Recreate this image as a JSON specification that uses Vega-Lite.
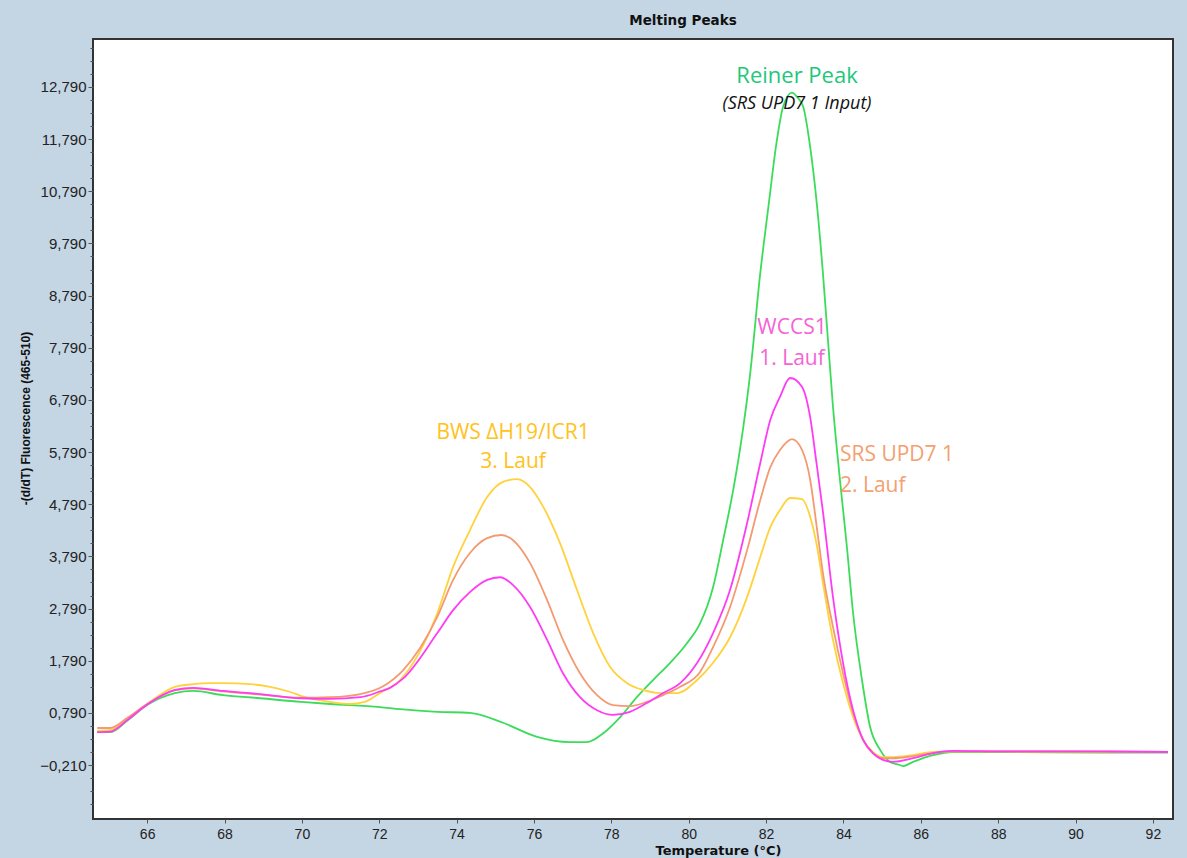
{
  "$schema": "https://vega.github.io/schema/vega-lite/v6.json",
  "width": 1080,
  "height": 780,
  "autosize": "none",
  "padding": {"left": 93, "top": 39, "right": 14, "bottom": 39},
  "background": "#C4D5E4",
  "config": {
    "view": {"fill": "white", "stroke": "#333333", "strokeWidth": 2},
    "axis": {"labelFont": "Liberation Sans", "labelFontSize": 15, "labelColor": "#222222"}
  },
  "title": {"text": "Melting Peaks", "font": "DejaVu Sans", "fontSize": 13.5, "fontWeight": "bold", "color": "#111111", "anchor": "middle", "dx": 50, "offset": 12},
  "resolve": {"axis": {"y": "independent"}},
  "layer": [
    {"data": {"values": [{}]}, "mark": {"type": "text", "text": ""},
      "encoding": {"x": {"datum": 80, "type": "quantitative"}, "y": {"datum": 5, "type": "quantitative",
        "axis": {"orient": "left", "values": [-0.96, -0.71, -0.46, 0.04, 0.29, 0.54, 1.04, 1.29, 1.54, 2.04, 2.29, 2.54, 3.04, 3.29, 3.54, 4.04, 4.29, 4.54, 5.04, 5.29, 5.54, 6.04, 6.29, 6.54, 7.04, 7.29, 7.54, 8.04, 8.29, 8.54, 9.04, 9.29, 9.54, 10.04, 10.29, 10.54, 11.04, 11.29, 11.54, 12.04, 12.29, 12.54, 13.04, 13.29, 13.54], "labels": false, "domain": false, "grid": false, "tickSize": 3, "tickColor": "#555555", "title": null, "offset": 0}}}},
    {
      "data": {"values": [
        {"s": "Reiner Peak", "t": 64.71, "v": 0.42}, {"s": "Reiner Peak", "t": 65.04, "v": 0.42}, {"s": "Reiner Peak", "t": 65.5, "v": 0.65}, {"s": "Reiner Peak", "t": 66.0, "v": 0.94}, {"s": "Reiner Peak", "t": 66.72, "v": 1.17}, {"s": "Reiner Peak", "t": 67.19, "v": 1.21}, {"s": "Reiner Peak", "t": 67.96, "v": 1.13}, {"s": "Reiner Peak", "t": 68.92, "v": 1.07}, {"s": "Reiner Peak", "t": 69.98, "v": 1.0}, {"s": "Reiner Peak", "t": 70.73, "v": 0.96}, {"s": "Reiner Peak", "t": 72.02, "v": 0.9}, {"s": "Reiner Peak", "t": 72.54, "v": 0.86}, {"s": "Reiner Peak", "t": 73.5, "v": 0.81}, {"s": "Reiner Peak", "t": 74.35, "v": 0.79}, {"s": "Reiner Peak", "t": 75.2, "v": 0.6}, {"s": "Reiner Peak", "t": 76.08, "v": 0.33}, {"s": "Reiner Peak", "t": 76.93, "v": 0.23}, {"s": "Reiner Peak", "t": 77.37, "v": 0.23}, {"s": "Reiner Peak", "t": 77.79, "v": 0.4}, {"s": "Reiner Peak", "t": 78.23, "v": 0.71}, {"s": "Reiner Peak", "t": 78.66, "v": 1.09}, {"s": "Reiner Peak", "t": 79.08, "v": 1.42}, {"s": "Reiner Peak", "t": 79.52, "v": 1.75}, {"s": "Reiner Peak", "t": 79.96, "v": 2.13}, {"s": "Reiner Peak", "t": 80.29, "v": 2.5}, {"s": "Reiner Peak", "t": 80.63, "v": 3.2}, {"s": "Reiner Peak", "t": 80.89, "v": 4.1}, {"s": "Reiner Peak", "t": 81.15, "v": 5.06}, {"s": "Reiner Peak", "t": 81.4, "v": 6.21}, {"s": "Reiner Peak", "t": 81.59, "v": 7.3}, {"s": "Reiner Peak", "t": 81.85, "v": 9.22}, {"s": "Reiner Peak", "t": 82.06, "v": 10.49}, {"s": "Reiner Peak", "t": 82.28, "v": 11.77}, {"s": "Reiner Peak", "t": 82.44, "v": 12.41}, {"s": "Reiner Peak", "t": 82.67, "v": 12.68}, {"s": "Reiner Peak", "t": 82.8, "v": 12.6}, {"s": "Reiner Peak", "t": 82.96, "v": 12.41}, {"s": "Reiner Peak", "t": 83.14, "v": 11.64}, {"s": "Reiner Peak", "t": 83.32, "v": 10.49}, {"s": "Reiner Peak", "t": 83.47, "v": 9.22}, {"s": "Reiner Peak", "t": 83.6, "v": 7.94}, {"s": "Reiner Peak", "t": 83.73, "v": 6.66}, {"s": "Reiner Peak", "t": 83.91, "v": 5.26}, {"s": "Reiner Peak", "t": 84.09, "v": 3.97}, {"s": "Reiner Peak", "t": 84.25, "v": 2.7}, {"s": "Reiner Peak", "t": 84.48, "v": 1.42}, {"s": "Reiner Peak", "t": 84.69, "v": 0.52}, {"s": "Reiner Peak", "t": 84.95, "v": 0.08}, {"s": "Reiner Peak", "t": 85.2, "v": -0.15}, {"s": "Reiner Peak", "t": 85.46, "v": -0.21}, {"s": "Reiner Peak", "t": 85.54, "v": -0.23}, {"s": "Reiner Peak", "t": 85.8, "v": -0.15}, {"s": "Reiner Peak", "t": 86.32, "v": -0.02}, {"s": "Reiner Peak", "t": 86.83, "v": 0.04}, {"s": "Reiner Peak", "t": 88.05, "v": 0.04}, {"s": "Reiner Peak", "t": 90.63, "v": 0.03}, {"s": "Reiner Peak", "t": 92.39, "v": 0.03},
        {"s": "BWS", "t": 64.71, "v": 0.45}, {"s": "BWS", "t": 65.04, "v": 0.46}, {"s": "BWS", "t": 65.5, "v": 0.68}, {"s": "BWS", "t": 66.0, "v": 0.96}, {"s": "BWS", "t": 66.72, "v": 1.29}, {"s": "BWS", "t": 67.19, "v": 1.34}, {"s": "BWS", "t": 67.63, "v": 1.36}, {"s": "BWS", "t": 67.96, "v": 1.36}, {"s": "BWS", "t": 68.66, "v": 1.34}, {"s": "BWS", "t": 69.18, "v": 1.29}, {"s": "BWS", "t": 69.7, "v": 1.19}, {"s": "BWS", "t": 70.08, "v": 1.09}, {"s": "BWS", "t": 70.73, "v": 1.0}, {"s": "BWS", "t": 71.25, "v": 0.96}, {"s": "BWS", "t": 71.63, "v": 1.0}, {"s": "BWS", "t": 72.02, "v": 1.17}, {"s": "BWS", "t": 72.54, "v": 1.42}, {"s": "BWS", "t": 73.5, "v": 2.7}, {"s": "BWS", "t": 73.91, "v": 3.59}, {"s": "BWS", "t": 74.35, "v": 4.3}, {"s": "BWS", "t": 74.79, "v": 4.93}, {"s": "BWS", "t": 75.2, "v": 5.22}, {"s": "BWS", "t": 75.56, "v": 5.27}, {"s": "BWS", "t": 75.9, "v": 5.12}, {"s": "BWS", "t": 76.24, "v": 4.74}, {"s": "BWS", "t": 76.67, "v": 4.05}, {"s": "BWS", "t": 77.11, "v": 3.15}, {"s": "BWS", "t": 77.53, "v": 2.32}, {"s": "BWS", "t": 77.97, "v": 1.67}, {"s": "BWS", "t": 78.41, "v": 1.36}, {"s": "BWS", "t": 78.82, "v": 1.23}, {"s": "BWS", "t": 79.26, "v": 1.17}, {"s": "BWS", "t": 79.7, "v": 1.17}, {"s": "BWS", "t": 80.22, "v": 1.42}, {"s": "BWS", "t": 80.63, "v": 1.75}, {"s": "BWS", "t": 81.07, "v": 2.24}, {"s": "BWS", "t": 81.51, "v": 3.01}, {"s": "BWS", "t": 81.85, "v": 3.78}, {"s": "BWS", "t": 82.11, "v": 4.35}, {"s": "BWS", "t": 82.36, "v": 4.68}, {"s": "BWS", "t": 82.62, "v": 4.91}, {"s": "BWS", "t": 82.93, "v": 4.89}, {"s": "BWS", "t": 83.14, "v": 4.55}, {"s": "BWS", "t": 83.32, "v": 3.97}, {"s": "BWS", "t": 83.47, "v": 3.28}, {"s": "BWS", "t": 83.73, "v": 2.19}, {"s": "BWS", "t": 83.99, "v": 1.36}, {"s": "BWS", "t": 84.25, "v": 0.71}, {"s": "BWS", "t": 84.51, "v": 0.27}, {"s": "BWS", "t": 84.76, "v": 0.04}, {"s": "BWS", "t": 85.02, "v": -0.06}, {"s": "BWS", "t": 85.28, "v": -0.06}, {"s": "BWS", "t": 85.8, "v": -0.02}, {"s": "BWS", "t": 86.32, "v": 0.04}, {"s": "BWS", "t": 86.83, "v": 0.05}, {"s": "BWS", "t": 88.05, "v": 0.05}, {"s": "BWS", "t": 92.39, "v": 0.04},
        {"s": "SRS UPD7 1", "t": 64.71, "v": 0.5}, {"s": "SRS UPD7 1", "t": 65.04, "v": 0.5}, {"s": "SRS UPD7 1", "t": 65.5, "v": 0.7}, {"s": "SRS UPD7 1", "t": 66.0, "v": 0.96}, {"s": "SRS UPD7 1", "t": 66.72, "v": 1.22}, {"s": "SRS UPD7 1", "t": 67.19, "v": 1.26}, {"s": "SRS UPD7 1", "t": 67.96, "v": 1.2}, {"s": "SRS UPD7 1", "t": 68.92, "v": 1.14}, {"s": "SRS UPD7 1", "t": 69.98, "v": 1.08}, {"s": "SRS UPD7 1", "t": 70.73, "v": 1.09}, {"s": "SRS UPD7 1", "t": 71.51, "v": 1.15}, {"s": "SRS UPD7 1", "t": 72.1, "v": 1.3}, {"s": "SRS UPD7 1", "t": 72.62, "v": 1.61}, {"s": "SRS UPD7 1", "t": 73.5, "v": 2.63}, {"s": "SRS UPD7 1", "t": 73.91, "v": 3.34}, {"s": "SRS UPD7 1", "t": 74.35, "v": 3.86}, {"s": "SRS UPD7 1", "t": 74.79, "v": 4.14}, {"s": "SRS UPD7 1", "t": 75.16, "v": 4.2}, {"s": "SRS UPD7 1", "t": 75.46, "v": 4.1}, {"s": "SRS UPD7 1", "t": 75.9, "v": 3.66}, {"s": "SRS UPD7 1", "t": 76.34, "v": 2.95}, {"s": "SRS UPD7 1", "t": 76.75, "v": 2.19}, {"s": "SRS UPD7 1", "t": 77.19, "v": 1.55}, {"s": "SRS UPD7 1", "t": 77.63, "v": 1.13}, {"s": "SRS UPD7 1", "t": 78.04, "v": 0.94}, {"s": "SRS UPD7 1", "t": 78.48, "v": 0.92}, {"s": "SRS UPD7 1", "t": 78.92, "v": 1.0}, {"s": "SRS UPD7 1", "t": 79.34, "v": 1.13}, {"s": "SRS UPD7 1", "t": 79.78, "v": 1.29}, {"s": "SRS UPD7 1", "t": 80.29, "v": 1.57}, {"s": "SRS UPD7 1", "t": 80.63, "v": 2.05}, {"s": "SRS UPD7 1", "t": 81.07, "v": 2.82}, {"s": "SRS UPD7 1", "t": 81.51, "v": 3.91}, {"s": "SRS UPD7 1", "t": 81.85, "v": 4.87}, {"s": "SRS UPD7 1", "t": 82.11, "v": 5.5}, {"s": "SRS UPD7 1", "t": 82.36, "v": 5.83}, {"s": "SRS UPD7 1", "t": 82.67, "v": 6.04}, {"s": "SRS UPD7 1", "t": 82.93, "v": 5.83}, {"s": "SRS UPD7 1", "t": 83.14, "v": 5.26}, {"s": "SRS UPD7 1", "t": 83.32, "v": 4.3}, {"s": "SRS UPD7 1", "t": 83.47, "v": 3.47}, {"s": "SRS UPD7 1", "t": 83.73, "v": 2.44}, {"s": "SRS UPD7 1", "t": 83.99, "v": 1.55}, {"s": "SRS UPD7 1", "t": 84.25, "v": 0.79}, {"s": "SRS UPD7 1", "t": 84.51, "v": 0.27}, {"s": "SRS UPD7 1", "t": 84.76, "v": 0.02}, {"s": "SRS UPD7 1", "t": 85.02, "v": -0.08}, {"s": "SRS UPD7 1", "t": 85.28, "v": -0.08}, {"s": "SRS UPD7 1", "t": 85.8, "v": -0.04}, {"s": "SRS UPD7 1", "t": 86.32, "v": 0.02}, {"s": "SRS UPD7 1", "t": 86.83, "v": 0.05}, {"s": "SRS UPD7 1", "t": 88.05, "v": 0.05}, {"s": "SRS UPD7 1", "t": 92.39, "v": 0.04},
        {"s": "WCCS1", "t": 64.71, "v": 0.42}, {"s": "WCCS1", "t": 65.04, "v": 0.43}, {"s": "WCCS1", "t": 65.5, "v": 0.66}, {"s": "WCCS1", "t": 66.0, "v": 0.95}, {"s": "WCCS1", "t": 66.72, "v": 1.23}, {"s": "WCCS1", "t": 67.19, "v": 1.27}, {"s": "WCCS1", "t": 67.96, "v": 1.21}, {"s": "WCCS1", "t": 68.92, "v": 1.15}, {"s": "WCCS1", "t": 69.98, "v": 1.07}, {"s": "WCCS1", "t": 70.73, "v": 1.06}, {"s": "WCCS1", "t": 71.51, "v": 1.09}, {"s": "WCCS1", "t": 72.02, "v": 1.2}, {"s": "WCCS1", "t": 72.28, "v": 1.27}, {"s": "WCCS1", "t": 72.62, "v": 1.45}, {"s": "WCCS1", "t": 73.5, "v": 2.32}, {"s": "WCCS1", "t": 73.91, "v": 2.76}, {"s": "WCCS1", "t": 74.35, "v": 3.11}, {"s": "WCCS1", "t": 74.79, "v": 3.34}, {"s": "WCCS1", "t": 75.12, "v": 3.39}, {"s": "WCCS1", "t": 75.46, "v": 3.24}, {"s": "WCCS1", "t": 75.9, "v": 2.82}, {"s": "WCCS1", "t": 76.34, "v": 2.19}, {"s": "WCCS1", "t": 76.75, "v": 1.55}, {"s": "WCCS1", "t": 77.19, "v": 1.09}, {"s": "WCCS1", "t": 77.63, "v": 0.84}, {"s": "WCCS1", "t": 78.04, "v": 0.75}, {"s": "WCCS1", "t": 78.48, "v": 0.81}, {"s": "WCCS1", "t": 78.92, "v": 0.98}, {"s": "WCCS1", "t": 79.34, "v": 1.17}, {"s": "WCCS1", "t": 79.78, "v": 1.36}, {"s": "WCCS1", "t": 80.22, "v": 1.75}, {"s": "WCCS1", "t": 80.63, "v": 2.32}, {"s": "WCCS1", "t": 81.07, "v": 3.15}, {"s": "WCCS1", "t": 81.51, "v": 4.43}, {"s": "WCCS1", "t": 81.85, "v": 5.58}, {"s": "WCCS1", "t": 82.11, "v": 6.41}, {"s": "WCCS1", "t": 82.36, "v": 6.85}, {"s": "WCCS1", "t": 82.62, "v": 7.21}, {"s": "WCCS1", "t": 82.93, "v": 7.04}, {"s": "WCCS1", "t": 83.14, "v": 6.46}, {"s": "WCCS1", "t": 83.3, "v": 5.6}, {"s": "WCCS1", "t": 83.47, "v": 4.65}, {"s": "WCCS1", "t": 83.73, "v": 3.01}, {"s": "WCCS1", "t": 83.99, "v": 1.75}, {"s": "WCCS1", "t": 84.25, "v": 0.84}, {"s": "WCCS1", "t": 84.51, "v": 0.27}, {"s": "WCCS1", "t": 84.76, "v": 0.02}, {"s": "WCCS1", "t": 85.02, "v": -0.11}, {"s": "WCCS1", "t": 85.28, "v": -0.15}, {"s": "WCCS1", "t": 85.8, "v": -0.08}, {"s": "WCCS1", "t": 86.32, "v": 0.02}, {"s": "WCCS1", "t": 86.83, "v": 0.06}, {"s": "WCCS1", "t": 88.05, "v": 0.05}, {"s": "WCCS1", "t": 90.63, "v": 0.05}, {"s": "WCCS1", "t": 92.39, "v": 0.04}
      ]},
      "mark": {"type": "line", "interpolate": "monotone", "strokeWidth": 1.8},
      "encoding": {
        "x": {"field": "t", "type": "quantitative", "scale": {"domain": [64.6, 92.52], "nice": false, "zero": false},
          "axis": {"values": [66, 68, 70, 72, 74, 76, 78, 80, 82, 84, 86, 88, 90, 92], "grid": false, "domain": false, "tickSize": 4, "tickColor": "#555555", "labelPadding": 4, "labelFont": "Liberation Sans", "labelFontSize": 14, "labelColor": "#222222", "title": "Temperature (°C)", "titleFont": "DejaVu Sans", "titleFontWeight": "bold", "titleColor": "#111111", "titleFontSize": 13, "titleX": 625, "titleY": 31, "titleBaseline": "middle", "titleAlign": "center"}},
        "y": {"field": "v", "type": "quantitative", "scale": {"domain": [-1.245, 13.71], "nice": false, "zero": false},
          "axis": {"orient": "left", "values": [-0.21, 0.79, 1.79, 2.79, 3.79, 4.79, 5.79, 6.79, 7.79, 8.79, 9.79, 10.79, 11.79, 12.79],
            "labelExpr": "replace(format(datum.value, '.3f'), '.', ',')",
            "grid": false, "domain": false, "tickSize": 5, "tickColor": "#555555", "labelPadding": 2, "labelFont": "Liberation Sans", "labelFontSize": 15, "labelColor": "#222222", "offset": 0,
            "title": "-(d/dT) Fluorescence (465-510)", "titleFont": "Liberation Sans", "titleFontWeight": "bold", "titleColor": "#111111", "titleFontSize": 12, "titleX": -68, "titleY": 379, "titleAngle": -90, "titleBaseline": "middle", "titleAlign": "center"}},
        "color": {"field": "s", "type": "nominal", "scale": {"domain": ["Reiner Peak", "BWS", "SRS UPD7 1", "WCCS1"], "range": ["#3CDC5A", "#FFD23C", "#F49A72", "#FF3CF5"]}, "legend": null}
      }
    },
    {"data": {"values": [{}]}, "mark": {"type": "text", "text": "Reiner Peak", "font": "Open Sans", "fontSize": 22, "color": "#22C77A", "align": "center", "baseline": "middle"},
      "encoding": {"x": {"datum": 82.8, "type": "quantitative"}, "y": {"datum": 13.0, "type": "quantitative", "axis": null}}},
    {"data": {"values": [{}]}, "mark": {"type": "text", "text": "(SRS UPD7 1 Input)", "font": "Open Sans", "fontSize": 18, "fontStyle": "italic", "color": "#111111", "align": "center", "baseline": "middle"},
      "encoding": {"x": {"datum": 82.8, "type": "quantitative"}, "y": {"datum": 12.47, "type": "quantitative", "axis": null}}},
    {"data": {"values": [{}]}, "mark": {"type": "text", "text": ["WCCS1", "1. Lauf"], "lineHeight": 31, "font": "Open Sans", "fontSize": 21, "color": "#F464D6", "align": "center", "baseline": "middle"},
      "encoding": {"x": {"datum": 82.67, "type": "quantitative"}, "y": {"datum": 8.17, "type": "quantitative", "axis": null}}},
    {"data": {"values": [{}]}, "mark": {"type": "text", "text": ["SRS UPD7 1", "2. Lauf"], "lineHeight": 31, "font": "Open Sans", "fontSize": 21, "color": "#F4A070", "align": "left", "baseline": "middle"},
      "encoding": {"x": {"datum": 83.91, "type": "quantitative"}, "y": {"datum": 5.74, "type": "quantitative", "axis": null}}},
    {"data": {"values": [{}]}, "mark": {"type": "text", "text": ["BWS ΔH19/ICR1", "3. Lauf"], "lineHeight": 29, "font": "Open Sans", "fontSize": 21, "color": "#FFC21A", "align": "center", "baseline": "middle"},
      "encoding": {"x": {"datum": 75.46, "type": "quantitative"}, "y": {"datum": 6.16, "type": "quantitative", "axis": null}}}
  ]
}
